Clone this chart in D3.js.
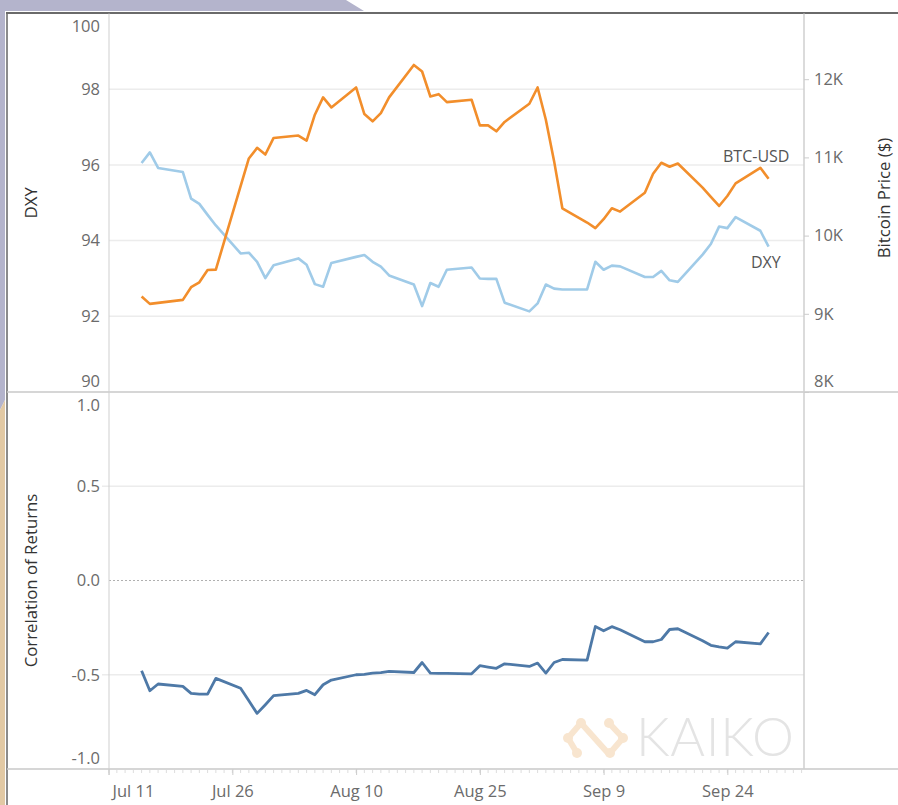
<!DOCTYPE html>
<html>
<head>
<meta charset="utf-8">
<script src="https://cdn.jsdelivr.net/npm/d3@7"></script>
<style>
body { margin: 0; background: #fff; }
text { font-family: "Open Sans", sans-serif; }
</style>
</head>
<body>
<svg width="898" height="805"></svg>
<script>
// trading days, Jul 15 - Sep 29 2020
const dates = [
  "2020-07-15","2020-07-16","2020-07-17","2020-07-20","2020-07-21","2020-07-22","2020-07-23","2020-07-24",
  "2020-07-27","2020-07-28","2020-07-29","2020-07-30","2020-07-31",
  "2020-08-03","2020-08-04","2020-08-05","2020-08-06","2020-08-07","2020-08-10","2020-08-11","2020-08-12",
  "2020-08-13","2020-08-14","2020-08-17","2020-08-18","2020-08-19","2020-08-20","2020-08-21","2020-08-24",
  "2020-08-25","2020-08-26","2020-08-27","2020-08-28","2020-08-31",
  "2020-09-01","2020-09-02","2020-09-03","2020-09-04","2020-09-07","2020-09-08","2020-09-09","2020-09-10",
  "2020-09-11","2020-09-14","2020-09-15","2020-09-16","2020-09-17","2020-09-18","2020-09-21","2020-09-22",
  "2020-09-23","2020-09-24","2020-09-25","2020-09-28","2020-09-29"
];
const dxy = [
  96.05, 96.33, 95.92, 95.81, 95.11, 94.97, 94.68, 94.40, 93.66, 93.68, 93.44, 93.01, 93.35,
  93.53, 93.36, 92.85, 92.78, 93.41, 93.57, 93.62, 93.44, 93.31, 93.08, 92.84, 92.27, 92.88, 92.78,
  93.23, 93.29, 93.00, 92.99, 92.99, 92.36, 92.13,
  92.34, 92.84, 92.73, 92.71, 92.71, 93.44, 93.23, 93.34, 93.32, 93.04, 93.04, 93.20, 92.95, 92.91,
  93.63, 93.91, 94.37, 94.33, 94.62, 94.26, 93.84
];
const btc = [
  9221, 9127, 9140, 9178, 9340, 9403, 9560, 9565, 10634, 10986, 11122, 11037, 11249,
  11279, 11215, 11546, 11767, 11639, 11894, 11554, 11461, 11567, 11767, 12182, 12098, 11779, 11809,
  11707, 11737, 11410, 11410, 11334, 11453, 11686,
  11894, 11482, 10952, 10349, 10167, 10095, 10210, 10349, 10307, 10549, 10791, 10931, 10880, 10922,
  10613, 10494, 10379, 10506, 10668, 10867, 10727
];
const corr = [
  -0.479, -0.585, -0.549, -0.562, -0.599, -0.603, -0.603, -0.519, -0.572, -0.638, -0.705, -0.659, -0.611,
  -0.599, -0.583, -0.606, -0.553, -0.528, -0.500, -0.498, -0.491, -0.489, -0.482, -0.488, -0.435, -0.491, -0.493,
  -0.493, -0.495, -0.452, -0.459, -0.466, -0.442, -0.456,
  -0.438, -0.491, -0.435, -0.419, -0.422, -0.244, -0.267, -0.245, -0.261, -0.325, -0.325, -0.313, -0.260, -0.256,
  -0.320, -0.344, -0.352, -0.359, -0.325, -0.336, -0.276
];
const dxyTicks = [90, 92, 94, 96, 98, 100];
const btcTicks = [8000, 9000, 10000, 11000, 12000];
const corrTicks = [-1, -0.5, 0, 0.5, 1];
const xTickLabels = ["2020-07-11","2020-07-26","2020-08-10","2020-08-25","2020-09-09","2020-09-24"];

const svg = d3.select("svg");
const parse = d3.timeParse("%Y-%m-%d");
const days = dates.map(parse);

const left = 109, right = 804;
const top1 = 13.5, bot1 = 392, bot2 = 769;
const labelColor = "#6b6b6b";
const fontSize = "16.5px";

// page decoration
svg.append("path").attr("d", "M0,0H346L364,11H5V400L0,410Z").attr("fill", "#b4b4cc");
svg.append("path").attr("d", "M0,410L5,400V805H0Z").attr("fill", "#e2c9a4");
svg.append("line").attr("x1", 7).attr("x2", 7).attr("y1", 12).attr("y2", 805)
  .attr("stroke", "#8c8c8c").attr("stroke-width", 2);
svg.append("line").attr("x1", 6).attr("x2", 898).attr("y1", 13).attr("y2", 13)
  .attr("stroke", "#6a6a6a").attr("stroke-width", 2);

const x = d3.scaleTime()
  .domain([new Date(2020, 6, 11), new Date(2020, 9, 3, 7)])
  .range([108.6, right]);
const yDxy = d3.scaleLinear().domain([90, 100]).range([bot1, top1]);
const yBtc = d3.scaleLinear().domain([8000, 12840]).range([bot1, top1]);
const yCorr = d3.scaleLinear().domain([-1, 1]).range([bot2, bot1]);

const clamp = (v, a, b) => Math.max(a, Math.min(b, v));

// gridlines
svg.append("g").selectAll("line").data([92, 94, 96, 98]).join("line")
  .attr("x1", left).attr("x2", right)
  .attr("y1", d => yDxy(d)).attr("y2", d => yDxy(d))
  .attr("stroke", "#ececec").attr("stroke-width", 1.5);
svg.append("g").selectAll("line").data([-0.5, 0.5]).join("line")
  .attr("x1", 102).attr("x2", right)
  .attr("y1", d => yCorr(d)).attr("y2", d => yCorr(d))
  .attr("stroke", "#ececec").attr("stroke-width", 1.5);
svg.append("line").attr("x1", left).attr("x2", right)
  .attr("y1", yCorr(0)).attr("y2", yCorr(0))
  .attr("stroke", "#b0b0b0").attr("stroke-dasharray", "2,2");

// panel frames
svg.append("line").attr("x1", 7).attr("x2", 898).attr("y1", bot1).attr("y2", bot1)
  .attr("stroke", "#c8c8c8").attr("stroke-width", 1.5);
svg.append("line").attr("x1", 7).attr("x2", 898).attr("y1", bot2).attr("y2", bot2)
  .attr("stroke", "#c8c8c8").attr("stroke-width", 1.5);
svg.append("line").attr("x1", left).attr("x2", left).attr("y1", top1).attr("y2", 775)
  .attr("stroke", "#cfcfcf").attr("stroke-width", 1);
svg.append("line").attr("x1", right).attr("x2", right).attr("y1", top1).attr("y2", bot2)
  .attr("stroke", "#cfcfcf").attr("stroke-width", 1.5);

// watermark
const logo = svg.append("g").attr("stroke", "#f8e5cf").attr("fill", "#f8e5cf");
logo.append("path").attr("d", "M581,723L568,738L577,753M581,723L607,752M609,723L623,738L610,753")
  .attr("fill", "none").attr("stroke-width", 6).attr("stroke-linecap", "round").attr("stroke-linejoin", "round");
[[581,723],[568,738],[577,753],[609,723],[623,738],[610,753]].forEach(p => {
  logo.append("circle").attr("cx", p[0]).attr("cy", p[1]).attr("r", 5).attr("stroke", "none");
});
svg.append("text").attr("x", 636).attr("y", 756).text("KAIKO")
  .attr("font-size", "53px").attr("font-weight", 300).attr("fill", "#e4e4e4")
  .attr("textLength", 158).attr("lengthAdjust", "spacing")
  .style("font-family", "Lato, 'Open Sans', sans-serif");

function styleAxis(g) {
  g.select(".domain").remove();
  g.selectAll("text").attr("fill", labelColor).attr("font-size", fontSize)
    .style("font-family", "'Open Sans', sans-serif");
  g.selectAll(".tick line").attr("stroke", "#cccccc");
}

// left axis, top panel
svg.append("g").attr("transform", `translate(${left},0)`)
  .call(d3.axisLeft(yDxy).tickValues(dxyTicks).tickSize(0).tickPadding(9))
  .call(styleAxis)
  .selectAll(".tick text").attr("y", d => clamp(yDxy(d), 26, 381) - yDxy(d));

// right axis, top panel
svg.append("g").attr("transform", `translate(${right},0)`)
  .call(d3.axisRight(yBtc).tickValues(btcTicks).tickSize(5).tickPadding(5)
    .tickFormat(d => d / 1000 + "K"))
  .call(styleAxis)
  .selectAll(".tick text").attr("y", d => clamp(yBtc(d), 26, 381) - yBtc(d));

// left axis, bottom panel
svg.append("g").attr("transform", `translate(${left},0)`)
  .call(d3.axisLeft(yCorr).tickValues(corrTicks).tickSize(0).tickPadding(9)
    .tickFormat(d3.format(".1f")))
  .call(styleAxis)
  .selectAll(".tick text")
  .text(d => d3.format(".1f")(d).replace("−", "-"))
  .attr("y", d => clamp(yCorr(d), 405, 758) - yCorr(d));

// x axis minor day ticks
svg.append("g").selectAll("line").data(x.ticks(d3.timeDay.every(1))).join("line")
  .attr("x1", d => x(d)).attr("x2", d => x(d))
  .attr("y1", bot2 + 1).attr("y2", bot2 + 4)
  .attr("stroke", "#dddddd");

const xAx = svg.append("g").attr("transform", `translate(0,${bot2})`)
  .call(d3.axisBottom(x).tickValues(xTickLabels.map(parse)).tickSize(6).tickPadding(10)
    .tickFormat(d3.timeFormat("%b %-d")))
  .call(styleAxis);
xAx.selectAll(".tick text").each(function(d) {
  const w = this.getComputedTextLength();
  const cx = x(d);
  const shift = Math.max(0, left + 3 + w / 2 - cx);
  d3.select(this).attr("x", shift);
});

// lines
const lineDxy = d3.line().x((d, i) => x(days[i])).y(d => yDxy(d));
const lineBtc = d3.line().x((d, i) => x(days[i])).y(d => yBtc(d));
const lineCorr = d3.line().x((d, i) => x(days[i])).y(d => yCorr(d));

svg.append("path").datum(dxy).attr("d", lineDxy)
  .attr("fill", "none").attr("stroke", "#a0cbe8").attr("stroke-width", 2.6)
  .attr("stroke-linejoin", "round");
svg.append("path").datum(btc).attr("d", lineBtc)
  .attr("fill", "none").attr("stroke", "#f28e2b").attr("stroke-width", 2.6)
  .attr("stroke-linejoin", "round");
svg.append("path").datum(corr).attr("d", lineCorr)
  .attr("fill", "none").attr("stroke", "#4e79a7").attr("stroke-width", 2.8)
  .attr("stroke-linejoin", "round");

// line labels
svg.append("text").attr("x", 723).attr("y", 162).text("BTC-USD")
  .attr("font-size", "16px").attr("fill", "#555");
svg.append("text").attr("x", 751).attr("y", 268).text("DXY")
  .attr("font-size", "16px").attr("fill", "#555");

// axis titles
svg.append("text").attr("transform", `translate(37,${(top1 + bot1) / 2}) rotate(-90)`)
  .attr("text-anchor", "middle").text("DXY")
  .attr("font-size", "16.8px").attr("fill", "#333");
svg.append("text").attr("transform", `translate(37,${(bot1 + bot2) / 2}) rotate(-90)`)
  .attr("text-anchor", "middle").text("Correlation of Returns")
  .attr("font-size", "16.8px").attr("fill", "#333");
svg.append("text").attr("transform", `translate(890,198) rotate(-90)`)
  .attr("text-anchor", "middle").text("Bitcoin Price ($)")
  .attr("font-size", "16.8px").attr("fill", "#333");
</script>
</body>
</html>
